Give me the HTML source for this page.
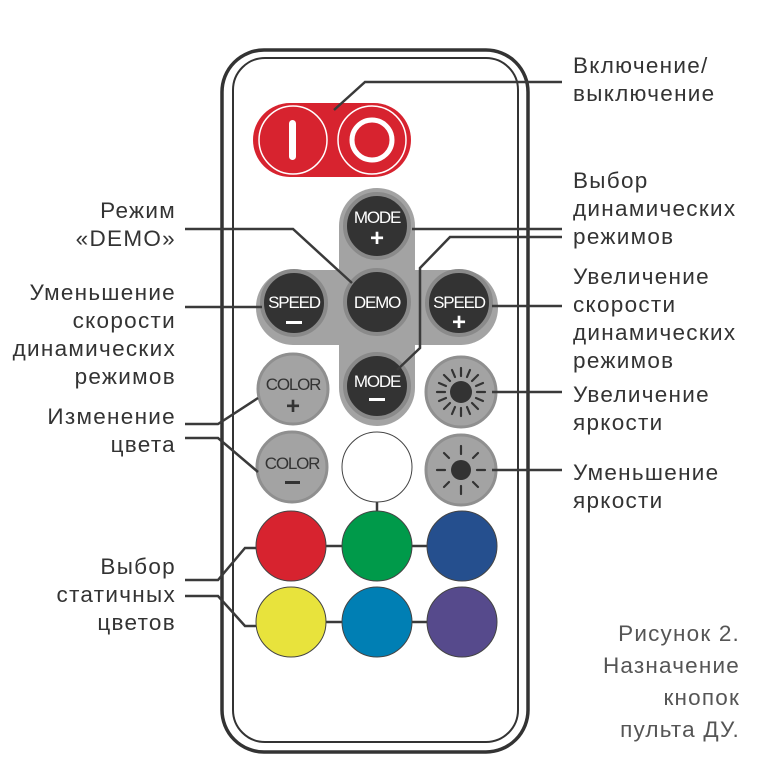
<!DOCTYPE html>
<html><head><meta charset="utf-8"><style>
html,body{margin:0;padding:0;background:#fff;}
svg{display:block;}
text{font-family:"Liberation Sans","DejaVu Sans",sans-serif;}
.lbl{font-size:22.5px;fill:#333;letter-spacing:1.3px;}
.cap{font-size:22.5px;fill:#555;letter-spacing:1.2px;}
.bt{font-size:17px;fill:#fff;letter-spacing:-1.2px;}
.bg{font-size:17px;fill:#333;letter-spacing:-1.2px;}
.ln{stroke:#3a3a3a;stroke-width:2.5;fill:none;}
</style></head><body>
<svg width="764" height="768" viewBox="0 0 764 768" xmlns="http://www.w3.org/2000/svg">
<rect x="222" y="50" width="306" height="702" rx="42" fill="none" stroke="#333" stroke-width="3.5"/>
<rect x="233" y="58" width="285" height="684" rx="32" fill="none" stroke="#333" stroke-width="2"/>
<rect x="253" y="103" width="158" height="74" rx="37" fill="#d7232f"/>
<circle cx="293" cy="140" r="34" fill="#d7232f" stroke="#fff" stroke-width="1.5"/>
<circle cx="372" cy="140" r="34" fill="#d7232f" stroke="#fff" stroke-width="1.5"/>
<rect x="289" y="120" width="7" height="40" rx="3.5" fill="#fff"/>
<circle cx="372" cy="140" r="20" fill="none" stroke="#fff" stroke-width="5"/>
<rect x="339" y="188" width="76" height="238" rx="38" fill="#a3a3a3"/>
<rect x="256" y="270" width="242" height="75" rx="37" fill="#a3a3a3"/>
<g stroke="#8a8a8a" stroke-width="4" fill="#333">
<circle cx="377" cy="226" r="32"/>
<circle cx="377" cy="302" r="32"/>
<circle cx="294" cy="303" r="32"/>
<circle cx="459" cy="303" r="32"/>
<circle cx="377" cy="386" r="32"/>
</g>
<text class="bt" x="377" y="223" text-anchor="middle">MODE</text>
<text x="377" y="246" text-anchor="middle" font-size="24" font-weight="bold" fill="#fff">+</text>
<text class="bt" x="377" y="308" text-anchor="middle">DEMO</text>
<text class="bt" x="294" y="308" text-anchor="middle">SPEED</text>
<rect x="286" y="321" width="16" height="3" fill="#fff"/>
<text class="bt" x="459" y="308" text-anchor="middle">SPEED</text>
<text x="459" y="330" text-anchor="middle" font-size="24" font-weight="bold" fill="#fff">+</text>
<text class="bt" x="377" y="387" text-anchor="middle">MODE</text>
<rect x="369" y="398" width="16" height="3" fill="#fff"/>
<g fill="#a3a3a3" stroke="#8f8f8f" stroke-width="3">
<circle cx="293" cy="389" r="35"/>
<circle cx="461" cy="392" r="35"/>
<circle cx="292" cy="467" r="35"/>
<circle cx="461" cy="470" r="35"/>
</g>
<text class="bg" x="293" y="390" text-anchor="middle">COLOR</text>
<text x="293" y="414" text-anchor="middle" font-size="24" font-weight="bold" fill="#333">+</text>
<text class="bg" x="292" y="469" text-anchor="middle">COLOR</text>
<rect x="285" y="481" width="15" height="3" fill="#333"/>
<circle cx="461" cy="392" r="11" fill="#333"/>
<g stroke="#333" stroke-width="2.2" stroke-linecap="round">
<line x1="461" y1="368" x2="461" y2="376"/><line x1="461" y1="408" x2="461" y2="416"/>
<line x1="437" y1="392" x2="445" y2="392"/><line x1="477" y1="392" x2="485" y2="392"/>
<line x1="444" y1="375" x2="450" y2="381"/><line x1="472" y1="403" x2="478" y2="409"/>
<line x1="478" y1="375" x2="472" y2="381"/><line x1="450" y1="403" x2="444" y2="409"/>
<line x1="452" y1="370" x2="455" y2="377"/><line x1="467" y1="407" x2="470" y2="414"/>
<line x1="470" y1="370" x2="467" y2="377"/><line x1="455" y1="407" x2="452" y2="414"/>
<line x1="439" y1="383" x2="446" y2="386"/><line x1="476" y1="398" x2="483" y2="401"/>
<line x1="483" y1="383" x2="476" y2="386"/><line x1="446" y1="398" x2="439" y2="401"/>
</g>
<circle cx="461" cy="470" r="10" fill="#333"/>
<g stroke="#333" stroke-width="2.2" stroke-linecap="round">
<line x1="461" y1="446" x2="461" y2="454"/><line x1="461" y1="486" x2="461" y2="494"/>
<line x1="437" y1="470" x2="445" y2="470"/><line x1="477" y1="470" x2="485" y2="470"/>
<line x1="444" y1="453" x2="449" y2="458"/><line x1="473" y1="482" x2="478" y2="487"/>
<line x1="478" y1="453" x2="473" y2="458"/><line x1="449" y1="482" x2="444" y2="487"/>
</g>
<g class="ln"><line x1="377" y1="502" x2="377" y2="512"/>
<line x1="326" y1="546" x2="342" y2="546"/><line x1="412" y1="546" x2="427" y2="546"/>
<line x1="326" y1="622" x2="342" y2="622"/><line x1="412" y1="622" x2="427" y2="622"/></g>
<circle cx="377" cy="467" r="35" fill="#fff" stroke="#444" stroke-width="1"/>
<g stroke="#444" stroke-width="1">
<circle cx="291" cy="546" r="35" fill="#d7232f"/>
<circle cx="377" cy="546" r="35" fill="#009a4a"/>
<circle cx="462" cy="546" r="35" fill="#254f8e"/>
<circle cx="291" cy="622" r="35" fill="#e8e33c"/>
<circle cx="377" cy="622" r="35" fill="#007fb4"/>
<circle cx="462" cy="622" r="35" fill="#564a8c"/>
</g>
<g class="ln">
<polyline points="334,110 365,82 562,82"/>
<polyline points="185,229 293,229 352,283"/>
<line x1="185" y1="307" x2="262" y2="307"/>
<polyline points="185,424 218,424 258,398"/>
<polyline points="185,438 218,438 258,472"/>
<polyline points="185,580 218,580 245,548 256,548"/>
<polyline points="185,596 218,596 245,626 256,626"/>
<line x1="412" y1="229" x2="562" y2="229"/>
<polyline points="397,370 420,348 420,268 450,237 562,237"/>
<line x1="492" y1="306" x2="562" y2="306"/>
<line x1="492" y1="392" x2="562" y2="392"/>
<line x1="492" y1="470" x2="562" y2="470"/>
</g>
<g class="lbl">
<text x="573" y="73">Включение/</text>
<text x="573" y="101">выключение</text>
<text x="573" y="188">Выбор</text>
<text x="573" y="216">динамических</text>
<text x="573" y="244">режимов</text>
<text x="573" y="284">Увеличение</text>
<text x="573" y="312">скорости</text>
<text x="573" y="340">динамических</text>
<text x="573" y="368">режимов</text>
<text x="573" y="402">Увеличение</text>
<text x="573" y="430">яркости</text>
<text x="573" y="480">Уменьшение</text>
<text x="573" y="508">яркости</text>
</g>
<g class="lbl" text-anchor="end">
<text x="176" y="218">Режим</text>
<text x="176" y="246">«DEMO»</text>
<text x="176" y="300">Уменьшение</text>
<text x="176" y="328">скорости</text>
<text x="176" y="356">динамических</text>
<text x="176" y="384">режимов</text>
<text x="176" y="424">Изменение</text>
<text x="176" y="452">цвета</text>
<text x="176" y="574">Выбор</text>
<text x="176" y="602">статичных</text>
<text x="176" y="630">цветов</text>
</g>
<g class="cap" text-anchor="end">
<text x="740" y="641">Рисунок 2.</text>
<text x="740" y="673">Назначение</text>
<text x="740" y="705">кнопок</text>
<text x="740" y="737">пульта ДУ.</text>
</g>
</svg>
</body></html>
